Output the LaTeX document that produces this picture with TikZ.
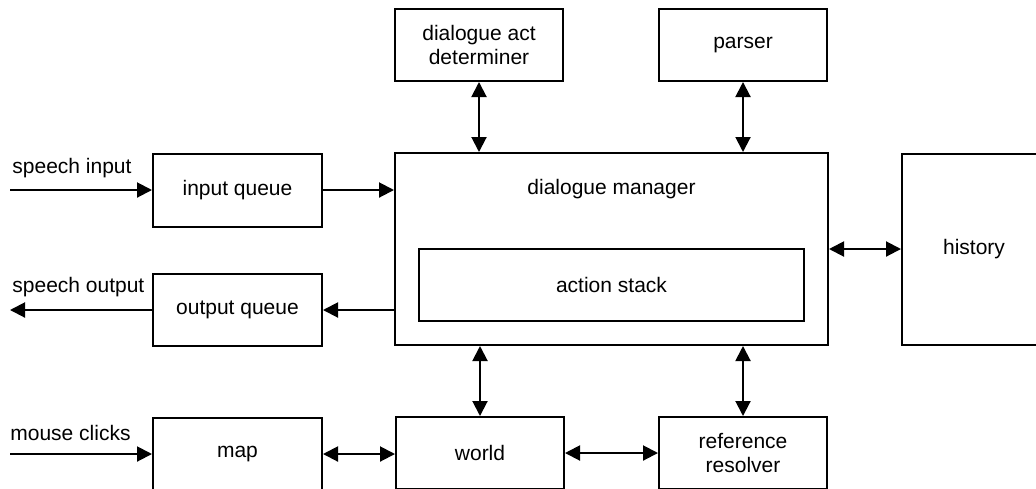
\documentclass[tikz,border=0pt]{standalone}
\usepackage{fontspec}
\setmainfont{Liberation Sans}
\usetikzlibrary{arrows.meta}

\begin{document}
\begin{tikzpicture}[x=0.5pt,y=-0.5pt,
        txt/.style={inner sep=0pt,align=center,font=\fontsize{10.5}{12.2}\selectfont},
        box/.style={txt,draw,line width=1pt},
        link/.style={line width=1pt,-{Triangle[length=7.5pt,width=7.5pt]}},
        both/.style={line width=1pt,{Triangle[length=7.5pt,width=7.5pt]}-{Triangle[length=7.5pt,width=7.5pt]}}]
        \useasboundingbox (0,0) rectangle (1036,488);

        \node[box,minimum width=84pt,minimum height=36pt] (dad) at (479,45) {dialogue act\\determiner};
        \node[box,minimum width=84pt,minimum height=36pt] (parser) at (743,45) {parser};
        \node[box,minimum width=84.5pt,minimum height=36.5pt] (iq) at (237.5,190) {input queue};
        \node[box,minimum width=84.5pt,minimum height=36pt] (oq) at (237.5,310) {output queue};
        \node[box,minimum width=216.5pt,minimum height=96pt] (dm) at (611.5,249) {};
        \node[txt] (dmtext) at (611.5,189) {dialogue manager};
        \node[box,minimum width=192.5pt,minimum height=36pt] (as) at (611.5,285) {action stack};
        \node[box,minimum width=72pt,minimum height=95.5pt] (hist) at (974,249.5) {history};
        \node[box,minimum width=84.5pt,minimum height=36pt] (map) at (237.5,454) {map};
        \node[box,minimum width=84pt,minimum height=36pt] (world) at (480,453) {world};
        \node[box,minimum width=84pt,minimum height=36pt] (rr) at (743,453) {reference\\resolver};

        \coordinate (si) at (10,190);
        \coordinate (so) at (10,310);
        \coordinate (mc) at (10,454);

        \node[txt,anchor=base west] (silabel) at (12,173) {speech input};
        \node[txt,anchor=base west] (solabel) at (12,292) {speech output};
        \node[txt,anchor=base west] (mclabel) at (10,440) {mouse clicks};

        \draw[link] (si) -- (iq);
        \draw[link] (iq) -- (iq -| dm.west);
        \draw[link] (oq -| dm.west) -- (oq);
        \draw[link] (oq) -- (so);
        \draw[link] (mc) -- (map);

        \draw[both] (map.east) -- (map.east -| world.west);
        \draw[both] (world) -- (rr);
        \draw[both] (dad) -- (dad |- dm.north);
        \draw[both] (parser) -- (parser |- dm.north);
        \draw[both] (dm.south -| world) -- (world);
        \draw[both] (dm.south -| rr) -- (rr);
        \draw[both] (dm.east) -- (dm.east -| hist.west);

\end{tikzpicture}
\end{document}
